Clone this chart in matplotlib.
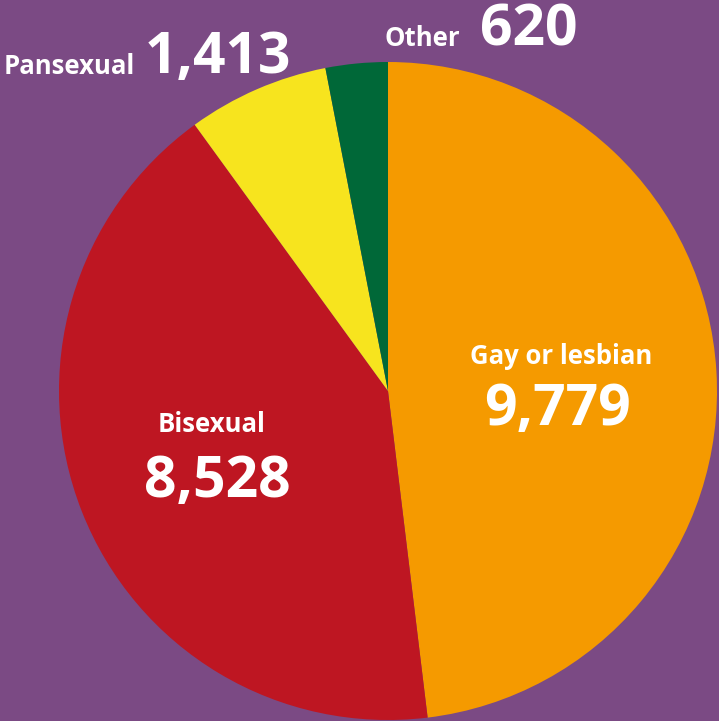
import matplotlib.pyplot as plt

# Data
categories = ['Gay or lesbian', 'Bisexual', 'Pansexual', 'Other']
counts = [9779, 8528, 1413, 620]
colors = ['#F59A00', '#BE1622', '#F7E41E', '#006838']

bg = '#7B4A84'
W, H = 719, 721

fig = plt.figure(figsize=(W / 100, H / 100), dpi=100, facecolor=bg)
ax = fig.add_axes([0, 0, 1, 1])
ax.set_facecolor(bg)

# pie in pixel-like coordinates (y measured from bottom)
ax.pie(counts, colors=colors, startangle=90, counterclock=False,
       center=(388, H - 391), radius=329,
       wedgeprops=dict(linewidth=0))
ax.set_xlim(0, W)
ax.set_ylim(0, H)
ax.set_aspect('auto')
ax.axis('off')

font = dict(family='Open Sans', weight='bold', color='white')
small = 18.5
big = 41

def fmt(v):
    return f"{v:,}"

# Gay or lesbian (inside)
ax.text(561, H - 357, categories[0], ha='center', va='center', fontsize=small, **font)
ax.text(558, H - 410, fmt(counts[0]), ha='center', va='center', fontsize=big, **font)

# Bisexual (inside)
ax.text(212, H - 425, categories[1], ha='center', va='center', fontsize=small, **font)
ax.text(217, H - 482, fmt(counts[1]), ha='center', va='center', fontsize=big, **font)

# Pansexual (outside, top left)
ax.text(4, H - 66, categories[2], ha='left', va='center', fontsize=small, **font)
ax.text(145, H - 58, fmt(counts[2]), ha='left', va='center', fontsize=big, **font)

# Other (outside, top)
ax.text(384, H - 38, categories[3], ha='left', va='center', fontsize=small, **font)
ax.text(480, H - 31, fmt(counts[3]), ha='left', va='center', fontsize=big, **font)

fig.savefig('out.png', dpi=100, facecolor=bg)
